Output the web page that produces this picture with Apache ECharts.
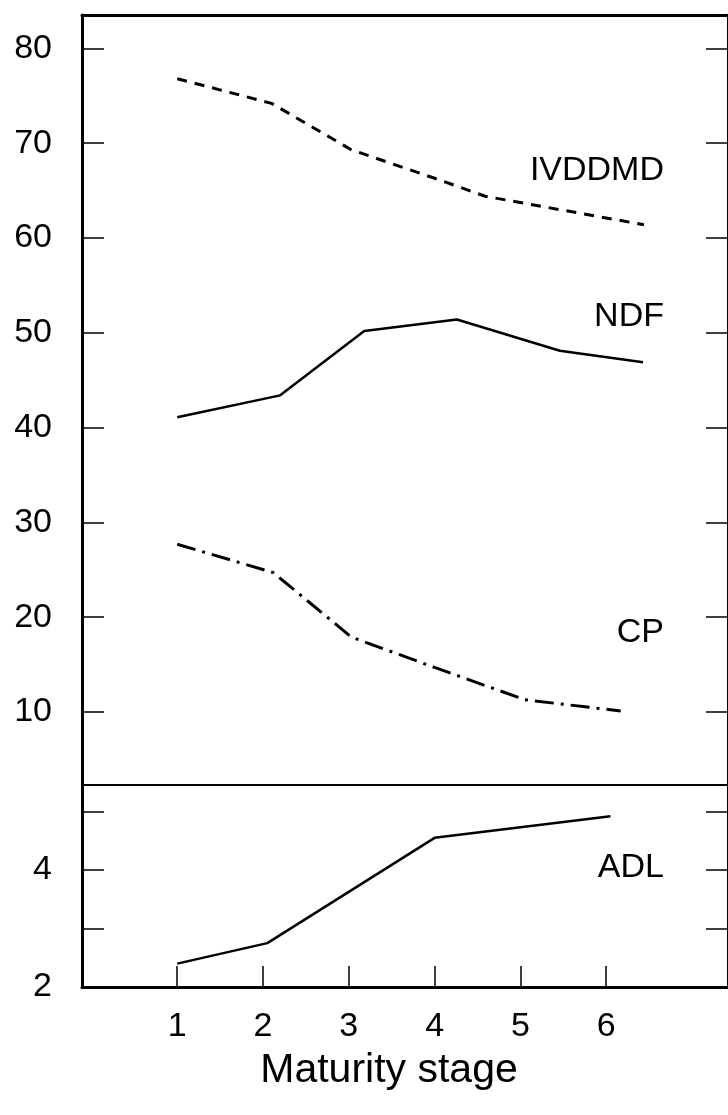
<!DOCTYPE html>
<html><head><meta charset="utf-8">
<script src="https://cdn.jsdelivr.net/npm/echarts@6/dist/echarts.min.js"></script>
<style>html,body{margin:0;padding:0;background:#fff}#c{width:728px;height:1115px}</style>
</head><body><div id="c"></div>
<script>
// ---- data ----
const stageTicks = [1, 2, 3, 4, 5, 6];
const topTicks = [10, 20, 30, 40, 50, 60, 70, 80];
const bottomTicks = [3, 4, 5];
const bottomLabels = [2, 4];
const ivddmd = [[1.0, 76.8], [2.1, 74.2], [3.03, 69.3], [4.0, 66.3], [4.59, 64.4], [6.44, 61.4]];
const ndf = [[1.0, 41.1], [2.2, 43.4], [3.18, 50.2], [4.26, 51.4], [5.46, 48.1], [6.43, 46.9]];
const cp = [[1.0, 27.7], [2.12, 24.7], [3.03, 17.9], [4.0, 14.7], [5.05, 11.3], [6.17, 10.1]];
const adl = [[1.0, 2.4], [2.05, 2.75], [4.0, 4.55], [6.05, 4.92]];
const seriesNames = ['IVDDMD', 'NDF', 'CP', 'ADL'];
const xAxisName = 'Maturity stage';

// ---- chart ----
const FONT = 'Liberation Sans, Arial, sans-serif';
const X_MIN = -0.11, X_MAX = 7.42;
const chart = echarts.init(document.getElementById('c'), null, {renderer: 'canvas'});
const blk = '#000';
const noSplit = {show: false};

function yAx(grid, pos, min, max, ticks, labels) {
  return {
    gridIndex: grid, type: 'value', position: pos, min: min, max: max,
    axisLine: {show: true, onZero: false, lineStyle: {color: blk, width: 3}},
    axisTick: {show: true, inside: true, length: 22, customValues: ticks, lineStyle: {color: blk, width: 1.5}},
    axisLabel: labels ? {show: true, customValues: labels, fontSize: 34, margin: 30, color: blk, fontFamily: FONT} : {show: false},
    splitLine: noSplit
  };
}

const option = {
  animation: false,
  backgroundColor: '#fff',
  grid: [
    {left: 82, right: -7, top: 15, height: 770},
    {left: 82, right: -7, top: 785, height: 202}
  ],
  xAxis: [
    {gridIndex: 0, type: 'value', min: X_MIN, max: X_MAX, position: 'bottom',
     axisLine: {onZero: false, lineStyle: {color: blk, width: 2}}, axisTick: {show: false}, axisLabel: {show: false}, splitLine: noSplit},
    {gridIndex: 0, type: 'value', min: X_MIN, max: X_MAX, position: 'top',
     axisLine: {onZero: false, lineStyle: {color: blk, width: 3}}, axisTick: {show: false}, axisLabel: {show: false}, splitLine: noSplit},
    {gridIndex: 1, type: 'value', min: X_MIN, max: X_MAX, position: 'bottom',
     axisLine: {onZero: false, lineStyle: {color: blk, width: 3}},
     axisTick: {show: true, inside: true, length: 21, customValues: stageTicks, lineStyle: {color: blk, width: 1.5}},
     axisLabel: {show: true, customValues: stageTicks, fontSize: 34, margin: 23, color: blk, fontFamily: FONT},
     splitLine: noSplit,
     name: xAxisName, nameLocation: 'middle', nameGap: 63,
     nameTextStyle: {fontSize: 41, color: blk, fontFamily: FONT, padding: [0, 32, 0, 0]}}
  ],
  yAxis: [
    yAx(0, 'left', 2.3, 83.52, topTicks, topTicks),
    yAx(0, 'right', 2.3, 83.52, topTicks, null),
    yAx(1, 'left', 2, 5.453, bottomTicks, bottomLabels),
    yAx(1, 'right', 2, 5.453, bottomTicks, null)
  ],
  series: [
    {name: seriesNames[0], type: 'line', xAxisIndex: 0, yAxisIndex: 0, data: ivddmd, symbol: 'none',
     lineStyle: {color: blk, width: 3, type: [10, 8]}},
    {name: seriesNames[1], type: 'line', xAxisIndex: 0, yAxisIndex: 0, data: ndf, symbol: 'none',
     lineStyle: {color: blk, width: 2.5}},
    {name: seriesNames[2], type: 'line', xAxisIndex: 0, yAxisIndex: 0, data: cp, symbol: 'none',
     lineStyle: {color: blk, width: 3, type: [19, 7, 3, 7]}},
    {name: seriesNames[3], type: 'line', xAxisIndex: 2, yAxisIndex: 2, data: adl, symbol: 'none',
     lineStyle: {color: blk, width: 2.5}}
  ],
  graphic: [
    {type: 'text', right: 64, top: 154, style: {text: seriesNames[0], fontSize: 34, fill: blk, fontFamily: FONT}},
    {type: 'text', right: 64, top: 300, style: {text: seriesNames[1], fontSize: 34, fill: blk, fontFamily: FONT}},
    {type: 'text', right: 64, top: 616, style: {text: seriesNames[2], fontSize: 34, fill: blk, fontFamily: FONT}},
    {type: 'text', right: 64, top: 851, style: {text: seriesNames[3], fontSize: 34, fill: blk, fontFamily: FONT}}
  ]
};
chart.setOption(option);
</script>
</body></html>
